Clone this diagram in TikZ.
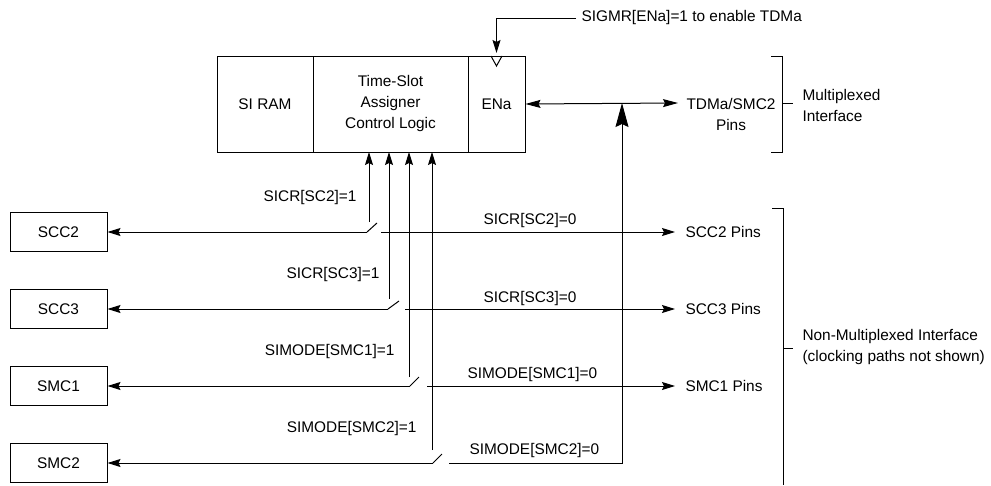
\documentclass[tikz,border=0pt]{standalone}
\usepackage{fontspec}
\setmainfont{Liberation Sans}
\usetikzlibrary{arrows.meta,calc}
\tikzset{
  blk/.style={draw, minimum height=96pt, inner sep=0pt, align=center},
  sbox/.style={draw, minimum width=97pt, minimum height=39pt, inner sep=0pt},
  lbl/.style={inner sep=0pt},
  pins/.style={inner xsep=10pt, inner ysep=0pt, anchor=west},
  arr/.style={-{Stealth[length=13pt,width=8pt,inset=2pt]}},
  darr/.style={{Stealth[length=15pt,width=8pt,inset=2pt]}-{Stealth[length=15pt,width=8pt,inset=2pt]}},
  bigarr/.style={-{Stealth[length=24pt,width=13pt,inset=3pt]}},
}
\begin{document}
\begin{tikzpicture}[x=1pt,y=-1pt,line width=1pt,font=\fontsize{15.4}{21}\selectfont]
\useasboundingbox (0,0) rectangle (991,485);

% main block
\node[blk, minimum width=96pt] (siram) at (265,104) {SI RAM};
\node[blk, minimum width=155pt] (tsa) at (390.5,104) {Time-Slot\\Assigner\\Control Logic};
\node[blk, minimum width=57pt] (ena) at (496.5,104) {ENa};

% SIGMR enable
\node[lbl, inner xsep=5pt, anchor=west] (sigmr) at (576,18) {SIGMR[ENa]=1 to enable TDMa};
\coordinate (sgc) at (496.5,18);
\coordinate (sgt) at (496.5,53);
\draw[arr] (sigmr.west) -- (sgc) -- (sgt);
\draw (491,56) -- (496.5,66) -- (502,56);

% TDMa pins
\node[lbl, align=center] (tdma) at (731,114) {TDMa/SMC2\\Pins};
\coordinate (ta) at (678,103);
\draw[darr] (ena.east) -- (ta);

% multiplexed bracket
\coordinate (mb1) at (771,56);
\coordinate (mb2) at (782,56);
\coordinate (mb3) at (782,152);
\coordinate (mb4) at (771,152);
\coordinate (mbm) at (782,103);
\coordinate (mbt) at (793,103);
\draw (mb1) -- (mb2) -- (mb3) -- (mb4);
\draw (mbm) -- (mbt);
\node[lbl, anchor=west, align=left] (mux) at (802,105) {Multiplexed\\Interface};

% non-multiplexed bracket
\coordinate (nb1) at (772,208);
\coordinate (nb2) at (783,208);
\coordinate (nb3) at (783,485);
\coordinate (nbm) at (783,348);
\coordinate (nbt) at (793,348);
\draw (nb1) -- (nb2) -- (nb3);
\draw (nbm) -- (nbt);
\node[lbl, anchor=west, align=left] (nmux) at (802,347.5) {Non-Multiplexed Interface\\(clocking paths not shown)};

% left boxes
\node[sbox] (scc2) at (58.5,232) {SCC2};
\node[sbox] (scc3) at (58.5,309) {SCC3};
\node[sbox] (smc1) at (58.5,386) {SMC1};
\node[sbox] (smc2) at (58.5,463) {SMC2};

% pins
\node[pins] (scc2p) at (675,232) {SCC2 Pins};
\node[pins] (scc3p) at (675,309) {SCC3 Pins};
\node[pins] (smc1p) at (675,386) {SMC1 Pins};

% row 1: SCC2
\coordinate (t1) at (369,152);
\coordinate (v1) at (369,222);
\coordinate (a1) at (367,232);
\coordinate (b1) at (377,223);
\coordinate (r1) at (381,232);
\draw[arr] (v1) -- (t1);
\draw (a1) -- (b1);
\draw[arr] (a1) -- (scc2.east);
\draw[arr] (r1) -- (scc2p.west);
\node[lbl, anchor=base east] (l1) at (357,201) {SICR[SC2]=1};
\node[lbl, anchor=base west] (m1) at (483,224) {SICR[SC2]=0};

% row 2: SCC3
\coordinate (t2) at (389,152);
\coordinate (v2) at (389,299);
\coordinate (a2) at (388,309);
\coordinate (b2) at (399,301);
\coordinate (r2) at (405,309);
\draw[arr] (v2) -- (t2);
\draw (a2) -- (b2);
\draw[arr] (a2) -- (scc3.east);
\draw[arr] (r2) -- (scc3p.west);
\node[lbl, anchor=base east] (l2) at (380,278) {SICR[SC3]=1};
\node[lbl, anchor=base west] (m2) at (483,302) {SICR[SC3]=0};

% row 3: SMC1
\coordinate (t3) at (409,152);
\coordinate (v3) at (409,377);
\coordinate (a3) at (410,386);
\coordinate (b3) at (419,377);
\coordinate (r3) at (427,386);
\draw[arr] (v3) -- (t3);
\draw (a3) -- (b3);
\draw[arr] (a3) -- (smc1.east);
\draw[arr] (r3) -- (smc1p.west);
\node[lbl, anchor=base east] (l3) at (395,355) {SIMODE[SMC1]=1};
\node[lbl, anchor=base west] (m3) at (467,378) {SIMODE[SMC1]=0};

% row 4: SMC2
\coordinate (t4) at (432,152);
\coordinate (v4) at (432,450);
\coordinate (a4) at (433,463);
\coordinate (b4) at (442,454);
\coordinate (r4) at (449,463);
\coordinate (c4) at (622,463);
\coordinate (j4) at (622,103);
\draw[arr] (v4) -- (t4);
\draw (a4) -- (b4);
\draw[arr] (a4) -- (smc2.east);
\draw[bigarr] (r4) -- (c4) -- (j4);
\node[lbl, anchor=base east] (l4) at (417,432) {SIMODE[SMC2]=1};
\node[lbl, anchor=base west] (m4) at (469,454) {SIMODE[SMC2]=0};
\end{tikzpicture}
\end{document}
